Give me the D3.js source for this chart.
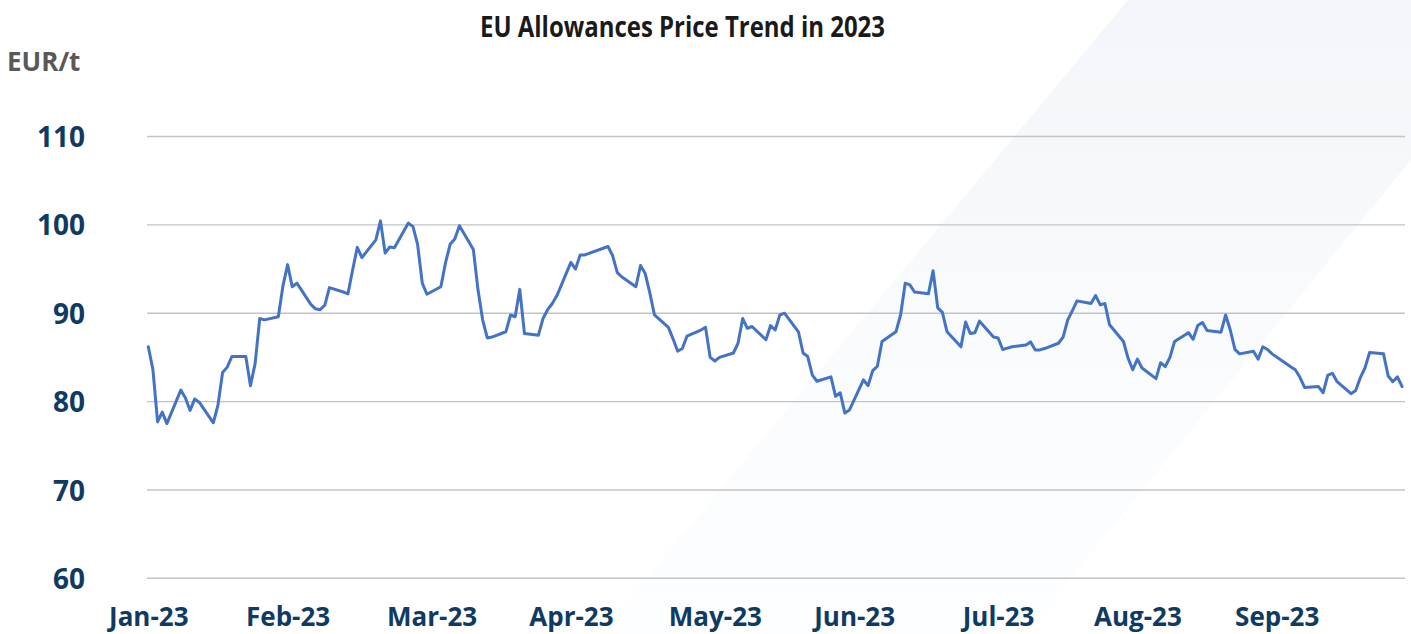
<!DOCTYPE html>
<html>
<head>
<meta charset="utf-8">
<script src="https://cdn.jsdelivr.net/npm/d3@7/dist/d3.min.js"></script>
<style>
  html, body { margin: 0; padding: 0; background: #ffffff; }
  svg { display: block; }
  text { font-family: "Open Sans", "Noto Sans", sans-serif; }
</style>
</head>
<body>
<script>
// ---------------- DATA ----------------
const chartTitle = "EU Allowances Price Trend in 2023";
const unitLabel = "EUR/t";

const dates = [
  "2023-01-02","2023-01-03","2023-01-04","2023-01-05","2023-01-06","2023-01-09","2023-01-10","2023-01-11","2023-01-12","2023-01-13",
  "2023-01-16","2023-01-17","2023-01-18","2023-01-19","2023-01-20","2023-01-23","2023-01-24","2023-01-25","2023-01-26","2023-01-27",
  "2023-01-30","2023-01-31",
  "2023-02-01","2023-02-02","2023-02-03","2023-02-06","2023-02-07","2023-02-08","2023-02-09","2023-02-10","2023-02-13","2023-02-14",
  "2023-02-15","2023-02-16","2023-02-17","2023-02-20","2023-02-21","2023-02-22","2023-02-23","2023-02-24","2023-02-27","2023-02-28",
  "2023-03-01","2023-03-02","2023-03-03","2023-03-06","2023-03-07","2023-03-08","2023-03-09","2023-03-10","2023-03-13","2023-03-14",
  "2023-03-15","2023-03-16","2023-03-17","2023-03-20","2023-03-21","2023-03-22","2023-03-23","2023-03-24","2023-03-27","2023-03-28",
  "2023-03-29","2023-03-30","2023-03-31",
  "2023-04-03","2023-04-04","2023-04-05","2023-04-06","2023-04-11","2023-04-12","2023-04-13","2023-04-14","2023-04-17","2023-04-18",
  "2023-04-19","2023-04-20","2023-04-21","2023-04-24","2023-04-25","2023-04-26","2023-04-27","2023-04-28",
  "2023-05-01","2023-05-02","2023-05-03","2023-05-04","2023-05-05","2023-05-08","2023-05-09","2023-05-10","2023-05-11","2023-05-12",
  "2023-05-15","2023-05-16","2023-05-17","2023-05-18","2023-05-19","2023-05-22","2023-05-23","2023-05-24","2023-05-25","2023-05-26",
  "2023-05-29","2023-05-30","2023-05-31",
  "2023-06-01","2023-06-02","2023-06-05","2023-06-06","2023-06-07","2023-06-08","2023-06-09","2023-06-12","2023-06-13","2023-06-14",
  "2023-06-15","2023-06-16","2023-06-19","2023-06-20","2023-06-21","2023-06-22","2023-06-23","2023-06-26","2023-06-27","2023-06-28",
  "2023-06-29","2023-06-30",
  "2023-07-03","2023-07-04","2023-07-05","2023-07-06","2023-07-07","2023-07-10","2023-07-11","2023-07-12","2023-07-13","2023-07-14",
  "2023-07-17","2023-07-18","2023-07-19","2023-07-20","2023-07-21","2023-07-24","2023-07-25","2023-07-26","2023-07-27","2023-07-28",
  "2023-07-31",
  "2023-08-01","2023-08-02","2023-08-03","2023-08-04","2023-08-07","2023-08-08","2023-08-09","2023-08-10","2023-08-11","2023-08-14",
  "2023-08-15","2023-08-16","2023-08-17","2023-08-18","2023-08-21","2023-08-22","2023-08-23","2023-08-24","2023-08-25","2023-08-28",
  "2023-08-29","2023-08-30","2023-08-31",
  "2023-09-01","2023-09-04","2023-09-05","2023-09-06","2023-09-07","2023-09-08","2023-09-11","2023-09-12","2023-09-13","2023-09-14",
  "2023-09-15","2023-09-18","2023-09-19","2023-09-20","2023-09-21","2023-09-22","2023-09-25","2023-09-26","2023-09-27","2023-09-28",
  "2023-09-29"
];

const prices = [
  86.2, 83.6, 77.7, 78.8, 77.5, 81.3, 80.4, 79.0, 80.3, 79.9,
  77.6, 79.6, 83.3, 83.9, 85.1, 85.1, 81.8, 84.3, 89.4, 89.25,
  89.6, 93.1,
  95.5, 93.0, 93.4, 91.0, 90.5, 90.4, 90.9, 92.9, 92.4, 92.2,
  94.9, 97.45, 96.3, 98.3, 100.45, 96.8, 97.5, 97.4, 100.2, 99.8,
  97.75, 93.4, 92.15, 93.0, 95.7, 97.8, 98.4, 99.9, 97.2, 92.65,
  89.25, 87.2, 87.3, 87.9, 89.8, 89.6, 92.7, 87.7, 87.5, 89.4,
  90.4, 91.1, 92.0,
  95.75, 95.0, 96.6, 96.6, 97.55, 96.5, 94.6, 94.1, 93.0, 95.4,
  94.5, 92.3, 89.8, 88.4, 87.1, 85.7, 86.0, 87.4,
  88.1, 88.4, 85.0, 84.6, 85.0, 85.5, 86.6, 89.4, 88.3, 88.5,
  87.0, 88.6, 88.1, 89.8, 90.0, 87.9, 85.5, 85.1, 83.0, 82.3,
  82.8, 80.6, 81.0,
  78.7, 79.05, 82.45, 81.8, 83.5, 84.0, 86.8, 87.9, 89.8, 93.4,
  93.2, 92.4, 92.2, 94.8, 90.6, 90.1, 87.9, 86.2, 89.0, 87.7,
  87.8, 89.1,
  87.3, 87.2, 85.9, 86.05, 86.2, 86.4, 86.75, 85.85, 85.85, 86.0,
  86.6, 87.3, 89.25, 90.3, 91.4, 91.1, 92.0, 90.95, 91.1, 88.7,
  86.8,
  84.9, 83.6, 84.8, 83.8, 82.6, 84.4, 83.95, 85.0, 86.8, 87.8,
  87.05, 88.6, 88.95, 88.05, 87.85, 89.8, 88.1, 85.9, 85.4, 85.7,
  84.8, 86.2, 85.9,
  85.4, 84.3, 83.95, 83.6, 82.75, 81.6, 81.7, 81.0, 83.0, 83.2,
  82.25, 80.9, 81.25, 82.7, 83.8, 85.55, 85.4, 82.9, 82.25, 82.8,
  81.7
];

const tickDates = ["2023-01-02","2023-02-01","2023-03-04","2023-04-03","2023-05-04","2023-06-03","2023-07-04","2023-08-03","2023-09-02"];
const tickLabels = ["Jan-23","Feb-23","Mar-23","Apr-23","May-23","Jun-23","Jul-23","Aug-23","Sep-23"];
const yTicks = [60, 70, 80, 90, 100, 110];

// ---------------- CHART ----------------
const W = 1411, H = 634;
const parse = d3.utcParse("%Y-%m-%d");
const data = dates.map((d, i) => ({ date: parse(d), value: prices[i] }));

const svg = d3.select("body").append("svg").attr("width", W).attr("height", H);

// decorative background band
const defs = svg.append("defs");
const grad = defs.append("linearGradient").attr("id", "bandGrad")
  .attr("x1", 0).attr("y1", 0).attr("x2", 0).attr("y2", 1);
grad.append("stop").attr("offset", "0%").attr("stop-color", "#f2f6fa");
grad.append("stop").attr("offset", "45%").attr("stop-color", "#f8fafc");
grad.append("stop").attr("offset", "100%").attr("stop-color", "#fdfeff");
svg.append("polygon")
  .attr("points", "1128,0 1411,0 1411,160 1025,634 600,634")
  .attr("fill", "url(#bandGrad)");

const x = d3.scaleUtc()
  .domain([parse(dates[0]), parse(dates[dates.length - 1])])
  .range([148.3, 1402.1]);
const y = d3.scaleLinear().domain([60, 110]).range([578.3, 136.5]);

const plotLeft = 147, plotRight = 1405;

// gridlines
svg.append("g").selectAll("line").data(yTicks).join("line")
  .attr("x1", plotLeft).attr("x2", plotRight)
  .attr("y1", d => y(d)).attr("y2", d => y(d))
  .attr("stroke", "#c3c3c3").attr("stroke-width", 1.4);

// y labels
const yAxis = d3.axisLeft(y).tickValues(yTicks).tickSize(0).tickPadding(0);
const gy = svg.append("g").attr("transform", "translate(85,0)").call(yAxis);
gy.select(".domain").remove();
gy.selectAll("text")
  .attr("fill", "#0f3a61")
  .style("font-family", '"Open Sans", sans-serif')
  .style("font-weight", 700)
  .style("font-size", "28px")
  .attr("dy", "0.36em");

// x labels
const xAxis = d3.axisBottom(x)
  .tickValues(tickDates.map(parse))
  .tickFormat((d, i) => tickLabels[i])
  .tickSize(0).tickPadding(0);
const gx = svg.append("g").attr("transform", "translate(0,626)").call(xAxis);
gx.select(".domain").remove();
gx.selectAll("text")
  .attr("fill", "#0f3a61")
  .attr("dy", 0)
  .style("font-family", '"Open Sans", sans-serif')
  .style("font-weight", 700)
  .style("font-size", "26px");

// line
const line = d3.line().x(d => x(d.date)).y(d => y(d.value));
svg.append("path").datum(data)
  .attr("d", line)
  .attr("fill", "none")
  .attr("stroke", "#4472c4")
  .attr("stroke-width", 3)
  .attr("stroke-linejoin", "round")
  .attr("stroke-linecap", "round");

// title
svg.append("text")
  .attr("x", 682.5).attr("y", 37)
  .attr("text-anchor", "middle")
  .attr("fill", "#1a1a1a")
  .attr("textLength", 405)
  .attr("lengthAdjust", "spacingAndGlyphs")
  .style("font-weight", 700)
  .style("font-size", "28px")
  .text(chartTitle);

// unit label
svg.append("text")
  .attr("x", 7).attr("y", 71)
  .attr("fill", "#595959")
  .style("font-weight", 700)
  .style("font-size", "26px")
  .text(unitLabel);
</script>
</body>
</html>
